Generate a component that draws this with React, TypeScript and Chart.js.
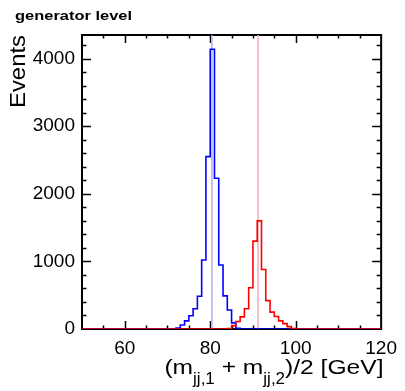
import { useEffect, useRef } from 'react';
import { Chart, registerables } from 'chart.js';

Chart.register(...registerables);

// ---- data ----
const X_MIN = 50;
const X_MAX = 120;
const BIN_WIDTH = 1;
const Y_MIN = 0;
const Y_MAX = 4350;
const xTickValues = [60, 80, 100, 120];
const yTickValues = [0, 1000, 2000, 3000, 4000];
const X_MINOR_STEP = 5;
const X_MAJOR_STEP = 20;
const Y_MINOR_STEP = 200;
const Y_MAJOR_STEP = 1000;

// W candidate (blue): counts per 1 GeV bin, first bin's lower edge = wFirstBin
const wFirstBin = 72;
const wCounts = [15, 60, 120, 195, 300, 485, 1020, 2550, 4140, 2230, 947, 490, 281, 90, 10];
// Z candidate (red): counts per 1 GeV bin, first bin's lower edge = zFirstBin
const zFirstBin = 84;
const zCounts = [5, 50, 110, 180, 300, 610, 1300, 1600, 880, 420, 250, 185, 120, 80, 35, 8];

const wMassLine = 80.4;
const zMassLine = 91.2;

const titleText = 'generator level';
const yAxisTitle = 'Events';
const xTitleParts = [
  { text: '(m', sub: false },
  { text: 'jj,1', sub: true },
  { text: ' + m', sub: false },
  { text: 'jj,2', sub: true },
  { text: ')/2 [GeV]', sub: false },
];

// one point per bin lower edge (plus the last upper edge)
function histPoints(first: number, counts: number[]) {
  const pts: { x: number; y: number }[] = [];
  for (let e = X_MIN; e <= X_MAX; e += BIN_WIDTH) {
    const i = Math.round((e - first) / BIN_WIDTH);
    pts.push({ x: e, y: i >= 0 && i < counts.length ? counts[i] : 0 });
  }
  return pts;
}

const FONT = '"Liberation Sans", Arial, Helvetica, sans-serif';

const framePlugin = {
  id: 'rootFrame',
  beforeDatasetsDraw(chart: any) {
    const { ctx, chartArea: a, scales } = chart;
    const xs = scales.x;
    const ys = scales.y;
    ctx.save();
    ctx.strokeStyle = '#000';
    ctx.lineWidth = 1.5;
    ctx.beginPath();
    for (let v = X_MIN + X_MINOR_STEP; v < X_MAX; v += X_MINOR_STEP) {
      const px = Math.round(xs.getPixelForValue(v)) + 0.5;
      const len = v % X_MAJOR_STEP === 0 ? 8 : 3.5;
      ctx.moveTo(px, a.bottom);
      ctx.lineTo(px, a.bottom - len);
      ctx.moveTo(px, a.top);
      ctx.lineTo(px, a.top + len);
    }
    for (let v = Y_MIN + Y_MINOR_STEP; v < Y_MAX; v += Y_MINOR_STEP) {
      const py = Math.round(ys.getPixelForValue(v)) + 0.5;
      const len = v % Y_MAJOR_STEP === 0 ? 9 : 4.5;
      ctx.moveTo(a.left, py);
      ctx.lineTo(a.left + len, py);
      ctx.moveTo(a.right, py);
      ctx.lineTo(a.right - len, py);
    }
    ctx.stroke();
    ctx.lineWidth = 2;
    ctx.strokeRect(a.left, a.top, a.right - a.left, a.bottom - a.top);
    ctx.restore();
  },
  afterDraw(chart: any) {
    const { ctx } = chart;
    ctx.save();
    ctx.fillStyle = '#000';
    ctx.textBaseline = 'alphabetic';

    // title
    ctx.font = `bold 13px ${FONT}`;
    const tw = ctx.measureText(titleText).width;
    ctx.save();
    ctx.translate(15, 20);
    ctx.scale(117 / tw, 1);
    ctx.textAlign = 'left';
    ctx.fillText(titleText, 0, 0);
    ctx.restore();

    // y title
    ctx.font = `22px ${FONT}`;
    const yw = ctx.measureText(yAxisTitle).width;
    ctx.save();
    ctx.translate(24.5, 35);
    ctx.rotate(-Math.PI / 2);
    ctx.scale(73 / yw, 1);
    ctx.textAlign = 'right';
    ctx.fillText(yAxisTitle, 0, 0);
    ctx.restore();

    // x title
    const mainFont = `20.5px ${FONT}`;
    const subFont = `17px ${FONT}`;
    const mainScale = 1.2;
    const widths = xTitleParts.map((p) => {
      ctx.font = p.sub ? subFont : mainFont;
      return ctx.measureText(p.text).width * (p.sub ? 1 : mainScale);
    });
    const total = widths.reduce((s, w) => s + w, 0);
    let x = 383.5 - total;
    xTitleParts.forEach((p, i) => {
      ctx.font = p.sub ? subFont : mainFont;
      ctx.save();
      ctx.translate(x, p.sub ? 384 : 374);
      if (!p.sub) ctx.scale(mainScale, 1);
      ctx.textAlign = 'left';
      ctx.fillText(p.text, 0, 0);
      ctx.restore();
      x += widths[i];
    });
    ctx.restore();
  },
};

export default function App() {
  const canvasRef = useRef<HTMLCanvasElement | null>(null);

  useEffect(() => {
    if (!canvasRef.current) return;
    const chart = new Chart(canvasRef.current, {
      type: 'line',
      data: {
        datasets: [
          {
            label: 'Z',
            data: histPoints(zFirstBin, zCounts),
            borderColor: '#ff0000',
            borderWidth: 1.6,
            stepped: 'before',
            pointRadius: 0,
            fill: false,
            order: 0,
          },
          {
            label: 'W',
            data: histPoints(wFirstBin, wCounts),
            borderColor: '#0000ff',
            borderWidth: 1.6,
            stepped: 'before',
            pointRadius: 0,
            fill: false,
            order: 1,
          },
          {
            label: 'mW',
            data: [
              { x: wMassLine, y: Y_MIN },
              { x: wMassLine, y: Y_MAX },
            ],
            borderColor: 'rgb(175,175,240)',
            borderWidth: 1.5,
            pointRadius: 0,
            fill: false,
            order: 2,
          },
          {
            label: 'mZ',
            data: [
              { x: zMassLine, y: Y_MIN },
              { x: zMassLine, y: Y_MAX },
            ],
            borderColor: 'rgb(240,175,185)',
            borderWidth: 1.5,
            pointRadius: 0,
            fill: false,
            order: 3,
          },
        ],
      },
      options: {
        animation: false,
        responsive: false,
        devicePixelRatio: 1,
        layout: { padding: { top: 35, right: 21, left: 0, bottom: 0 } },
        elements: { line: { tension: 0 } },
        plugins: {
          legend: { display: false },
          tooltip: { enabled: false },
          title: { display: false },
        },
        scales: {
          x: {
            type: 'linear',
            min: X_MIN,
            max: X_MAX,
            grid: { display: false, drawTicks: false },
            border: { display: false },
            ticks: {
              color: '#000',
              font: { family: FONT, size: 19 },
              padding: 8,
              maxRotation: 0,
              autoSkip: false,
              callback: (v: any) => String(v),
            },
            afterBuildTicks: (s: any) => {
              s.ticks = xTickValues.map((v) => ({ value: v }));
            },
            afterFit: (s: any) => {
              s.height = 62;
            },
          },
          y: {
            type: 'linear',
            min: Y_MIN,
            max: Y_MAX,
            grid: { display: false, drawTicks: false },
            border: { display: false },
            ticks: {
              color: '#000',
              font: { family: FONT, size: 19 },
              padding: 7,
              autoSkip: false,
              callback: (v: any) => String(v),
            },
            afterBuildTicks: (s: any) => {
              s.ticks = yTickValues.map((v) => ({ value: v }));
            },
            afterFit: (s: any) => {
              s.width = 82;
            },
          },
        },
      },
      plugins: [framePlugin],
    } as any);
    return () => chart.destroy();
  }, []);

  return (
    <div style={{ position: 'fixed', left: 0, top: 0, width: 405, height: 391, background: '#fff' }}>
      <canvas ref={canvasRef} width={405} height={391} style={{ display: 'block' }} />
    </div>
  );
}
